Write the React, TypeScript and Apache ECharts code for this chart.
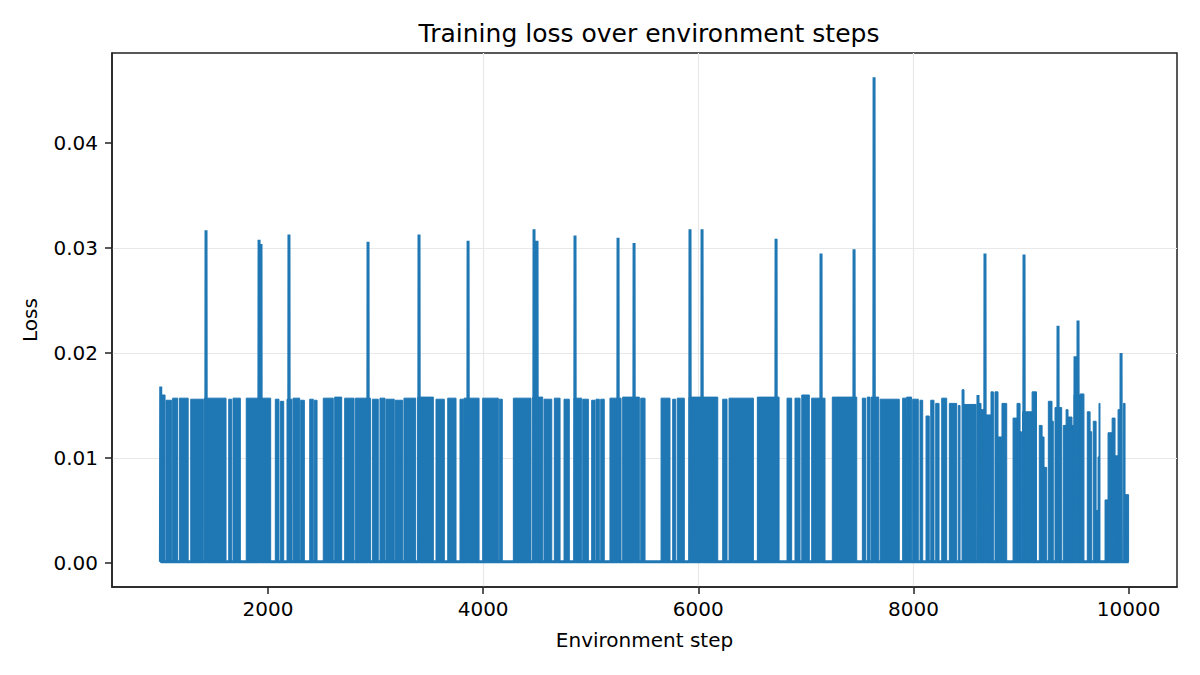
import React, { useEffect, useRef } from 'react'
import * as echarts from 'echarts'

// loss is ~0 most of the time, with dense bursts near 0.0155 and a few tall spikes
const BASE = 0.0001

const blockStart = [
  1000, 1052, 1114, 1176, 1282, 1408, 1635, 1675, 1798, 2068,
  2115, 2177, 2233, 2304, 2388, 2431, 2514, 2620, 2713, 2812,
  2970, 3041, 3097, 3184, 3264, 3392, 3562, 3671, 3785, 3822,
  3996, 4150, 4281, 4461, 4566, 4662, 4752, 4845, 4926, 5009,
  5049, 5093, 5179, 5297, 5465, 5654, 5762, 5805, 5914, 6227,
  6286, 6549, 6825, 6899, 6962, 7054, 7246, 7525, 7571, 7606,
  7690, 7900, 7937, 7993, 8061, 8117, 8161, 8207, 8263, 8334,
  8417,
  8452, 8470, 8594, 8628, 8656, 8721, 8758, 8786, 8823, 8926,
  8963, 8991, 9014, 9103, 9170, 9196, 9214, 9254, 9288, 9316,
  9393, 9419, 9437, 9474, 9493, 9549, 9616, 9642, 9672, 9698,
  9716, 9725, 9781, 9809, 9847, 9874, 9902, 9951, 9967
]
const blockEnd = [
  1043, 1105, 1160, 1258, 1399, 1610, 1662, 1743, 2025, 2102,
  2146, 2223, 2295, 2338, 2421, 2456, 2607, 2685, 2800, 2952,
  3025, 3088, 3174, 3252, 3373, 3537, 3639, 3748, 3816, 3962,
  4141, 4178, 4445, 4554, 4638, 4715, 4801, 4916, 4978, 5040,
  5080, 5126, 5282, 5452, 5505, 5737, 5790, 5870, 6181, 6267,
  6512, 6751, 6868, 6946, 7032, 7178, 7473, 7556, 7596, 7677,
  7868, 7931, 7983, 8045, 8086, 8147, 8191, 8238, 8309, 8402,
  8433,
  8470, 8582, 8628, 8656, 8721, 8743, 8786, 8823, 8867, 8963,
  8991, 9004, 9103, 9144, 9196, 9214, 9239, 9288, 9300, 9378,
  9419, 9437, 9474, 9493, 9549, 9585, 9642, 9657, 9698, 9716,
  9725, 9734, 9809, 9847, 9874, 9902, 9920, 9967, 10000
]
const blockLevel = [
  0.0160, 0.0155, 0.0157, 0.0157, 0.0156, 0.0157, 0.0156, 0.0157, 0.0157, 0.0156,
  0.0154, 0.0156, 0.0157, 0.0155, 0.0156, 0.0155, 0.0157, 0.0158, 0.0157, 0.0157,
  0.0156, 0.0157, 0.0156, 0.0155, 0.0157, 0.0158, 0.0156, 0.0157, 0.0156, 0.0157,
  0.0157, 0.0156, 0.0157, 0.0158, 0.0156, 0.0157, 0.0156, 0.0157, 0.0156, 0.0155,
  0.0156, 0.0156, 0.0157, 0.0158, 0.0157, 0.0157, 0.0156, 0.0157, 0.0158, 0.0156,
  0.0157, 0.0158, 0.0157, 0.0157, 0.0160, 0.0157, 0.0158, 0.0157, 0.0158, 0.0158,
  0.0156, 0.0157, 0.0158, 0.0156, 0.0155, 0.0140, 0.0155, 0.0152, 0.0157, 0.0152,
  0.0150,
  0.0165, 0.0151, 0.0152, 0.0146, 0.0141, 0.0163, 0.0163, 0.0120, 0.0152, 0.0138,
  0.0152, 0.0125, 0.0144, 0.0163, 0.0131, 0.0120, 0.0091, 0.0154, 0.0135, 0.0148,
  0.0131, 0.0146, 0.0139, 0.0131, 0.0160, 0.0161, 0.0144, 0.0125, 0.0135, 0.0050,
  0.0101, 0.0152, 0.0060, 0.0124, 0.0138, 0.0102, 0.0146, 0.0152, 0.0065
]

const spikeStep = [
  1003, 1424, 1917, 1935, 2195, 2930, 3404, 3860, 4473, 4501, 4854, 5254, 5403, 5923, 6035, 6723,
  7141, 7448, 7634, 8600, 8665, 9028, 9344, 9502, 9530, 9930
]
const spikeValue = [
  0.0168, 0.0317, 0.0308, 0.0304, 0.0313, 0.0306, 0.0313, 0.0307, 0.0318, 0.0307, 0.0312, 0.0310,
  0.0305, 0.0318, 0.0318, 0.0309, 0.0295, 0.0299, 0.0463, 0.0160, 0.0295, 0.0294, 0.0226, 0.0197,
  0.0231, 0.0200
]

const xTicks = [2000, 4000, 6000, 8000, 10000]
const yTicks = [0, 0.01, 0.02, 0.03, 0.04]

const COLOR = '#1f77b4'
const FONT = 'DejaVu Sans'
const GRID_LINE = { show: true, showMinLine: false, showMaxLine: false, lineStyle: { color: '#e8e8e8', width: 1.2 } }

const App: React.FC = () => {
  const chartRef = useRef<HTMLDivElement>(null)

  useEffect(() => {
    document.body.style.margin = '0'
    if (!chartRef.current) return
    const chart = echarts.init(chartRef.current, undefined, { renderer: 'svg' })

    const blockData: number[][] = []
    blockStart.forEach((s, i) => {
      const e = blockEnd[i]
      const h = blockLevel[i]
      blockData.push([s, BASE], [s, h], [e, h], [e, BASE])
    })

    const spikeData: number[][] = [[1000, BASE]]
    spikeStep.forEach((x, i) => {
      spikeData.push([x - 3, BASE], [x, spikeValue[i]], [x + 3, BASE])
    })
    spikeData.push([10000, BASE])

    const option: echarts.EChartsOption = {
      animation: false,
      backgroundColor: '#fff',
      title: {
        text: 'Training loss over environment steps',
        left: 644,
        top: 16,
        textAlign: 'center',
        textStyle: { fontFamily: FONT, fontSize: 25, fontWeight: 'normal', color: '#000' }
      },
      grid: {
        left: 112,
        right: 23,
        top: 53,
        bottom: 88,
        show: true,
        borderColor: '#222',
        borderWidth: 1.5,
        backgroundColor: 'transparent'
      },
      xAxis: {
        type: 'value',
        min: 550,
        max: 10450,
        name: 'Environment step',
        nameLocation: 'middle',
        nameGap: 43,
        nameTextStyle: { fontFamily: FONT, fontSize: 20, color: '#000' },
        axisLine: { onZero: false, lineStyle: { color: '#222', width: 1.5 } },
        axisTick: { customValues: xTicks, length: 7, lineStyle: { color: '#222', width: 1.5 } },
        axisLabel: {
          customValues: xTicks,
          margin: 12,
          fontFamily: FONT,
          fontSize: 20,
          color: '#000',
          formatter: (v: number) => String(v)
        },
        splitLine: GRID_LINE
      } as any,
      yAxis: {
        type: 'value',
        min: -0.0023,
        max: 0.0486,
        name: 'Loss',
        nameLocation: 'middle',
        nameGap: 72,
        nameTextStyle: { fontFamily: FONT, fontSize: 20, color: '#000' },
        axisLine: { show: true, lineStyle: { color: '#222', width: 1.5 } },
        axisTick: { show: true, customValues: yTicks, length: 7, lineStyle: { color: '#222', width: 1.5 } },
        axisLabel: {
          customValues: yTicks,
          margin: 14,
          fontFamily: FONT,
          fontSize: 20,
          color: '#000',
          formatter: (v: number) => v.toFixed(2)
        },
        splitLine: GRID_LINE
      } as any,
      series: [
        {
          name: 'loss',
          type: 'line',
          data: blockData,
          z: 2,
          showSymbol: false,
          symbol: 'none',
          lineStyle: { color: COLOR, width: 1 },
          areaStyle: { color: COLOR, opacity: 1, origin: 'auto' }
        },
        {
          name: 'spikes',
          type: 'line',
          data: spikeData,
          z: 3,
          showSymbol: false,
          symbol: 'none',
          lineStyle: { color: COLOR, width: 3 }
        }
      ] as any
    }

    chart.setOption(option)
    return () => {
      chart.dispose()
    }
  }, [])

  return <div ref={chartRef} style={{ width: 1200, height: 675 }} />
}

export default App
